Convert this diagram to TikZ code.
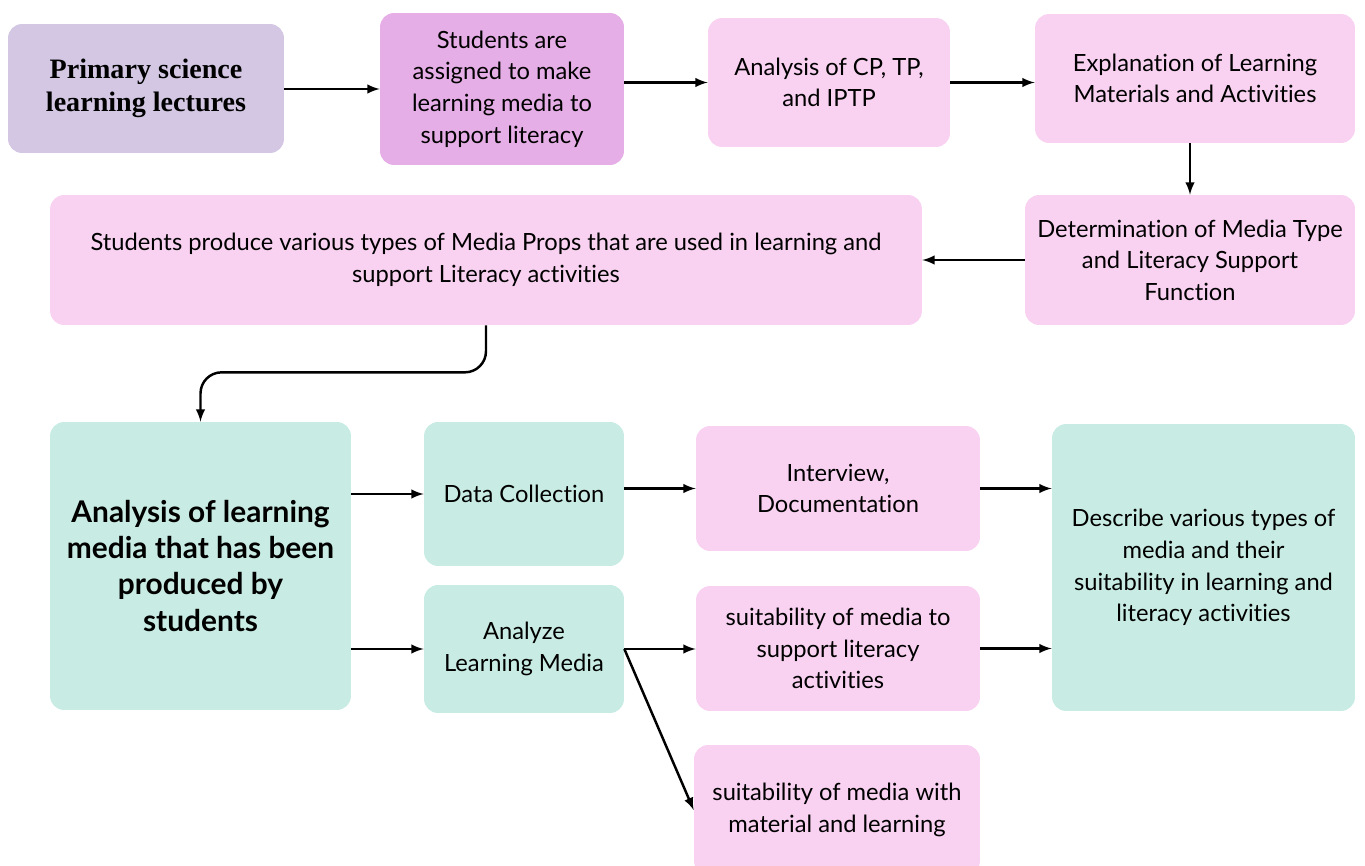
\documentclass[tikz,border=0pt]{standalone}
\usepackage{fontspec}
\setmainfont{Lato}[Ligatures=NoCommon]
\newfontfamily\headfont{Liberation Serif}
\usetikzlibrary{calc}
\definecolor{lect_col}{HTML}{D3C7E3}
\definecolor{task_col}{HTML}{E6AEE6}
\definecolor{pink_col}{HTML}{F9D2F2}
\definecolor{teal_col}{HTML}{C8ECE3}
\newcommand{\bodytxt}{\fontsize{13.5}{18}\selectfont}

\begin{document}
\begin{tikzpicture}[x=0.02cm, y=-0.02cm]
        \tikzstyle{flow_box}=[shape=rectangle, rounded corners=0.28cm, align=center, inner sep=0pt, font=\bodytxt];
        \tikzstyle{pink_box}=[flow_box, fill=pink_col];
        \tikzstyle{teal_box}=[flow_box, fill=teal_col];
        \tikzstyle{myedge}=[line width=1.4pt, -latex, color=black];
        \useasboundingbox (0,0) rectangle (1365,865);

        % top row
        \node[flow_box, fill=lect_col, minimum width=5.52cm, minimum height=2.58cm,
              font=\headfont\bfseries\fontsize{16}{18.5}\selectfont] (lect) at (146, 88.5)
              {Primary science\\learning lectures};
        \node[flow_box, fill=task_col, minimum width=4.88cm, minimum height=3.04cm] (task) at (502, 89)
              {Students are\\assigned to make\\learning media to\\support literacy};
        \node[pink_box, minimum width=4.84cm, minimum height=2.58cm] (cptp) at (829, 82.5)
              {Analysis of CP, TP,\\and IPTP};
        \node[pink_box, minimum width=6.40cm, minimum height=2.58cm] (expl) at (1195, 78.5)
              {Explanation of Learning\\Materials and Activities};

        % second row
        \node[pink_box, minimum width=6.60cm, minimum height=2.60cm] (dtype) at (1190, 260)
              {Determination of Media Type\\and Literacy Support\\Function};
        \node[pink_box, minimum width=17.44cm, minimum height=2.60cm] (prod) at (486, 260)
              {Students produce various types of Media Props that are used in learning and\\support Literacy activities};

        % analysis part
        \node[teal_box, minimum width=6.02cm, minimum height=5.76cm,
              font=\bfseries\fontsize{17}{20.5}\selectfont] (anal) at (200.5, 566)
              {Analysis of learning\\media that has been\\produced by\\students};
        \node[teal_box, minimum width=4.00cm, minimum height=2.88cm] (dcol) at (524, 494)
              {Data Collection};
        \node[teal_box, minimum width=4.00cm, minimum height=2.56cm] (amed) at (524, 649)
              {Analyze\\Learning Media};
        \node[pink_box, minimum width=5.68cm, minimum height=2.50cm] (intv) at (838, 488.5)
              {Interview,\\Documentation};
        \node[pink_box, minimum width=5.68cm, minimum height=2.50cm] (suit1) at (838, 648.5)
              {suitability of media to\\support literacy\\activities};
        \node[pink_box, minimum width=5.72cm, minimum height=2.60cm] (suit2) at (837, 810)
              {suitability of media with\\material and learning};
        \node[teal_box, minimum width=6.06cm, minimum height=5.74cm] (desc) at (1203.5, 567.5)
              {Describe various types of\\media and their\\suitability in learning and\\literacy activities};

        % connectors
        \draw[myedge] (lect.east |- task) -- (task.west);
        \draw[myedge] (task.east |- cptp) -- (cptp.west);
        \draw[myedge] (cptp.east) -- (cptp.east -| expl.west);
        \draw[myedge] (expl.south -| dtype) -- (dtype.north);
        \draw[myedge] (dtype.west) -- (dtype.west -| prod.east);
        \draw[myedge, rounded corners=12pt] (prod.south) -- ++(0,47) -| (anal.north);
        \draw[myedge] (anal.east |- dcol) -- (dcol.west);
        \draw[myedge] (anal.east |- amed) -- (amed.west);
        \draw[myedge] (dcol.east |- intv) -- (intv.west);
        \draw[myedge] (amed.east) -- (amed.east -| suit1.west);
        \draw[myedge] (amed.east) -- (suit2.west);
        \draw[myedge] (intv.east) -- (intv.east -| desc.west);
        \draw[myedge] (suit1.east) -- (suit1.east -| desc.west);
\end{tikzpicture}
\end{document}
